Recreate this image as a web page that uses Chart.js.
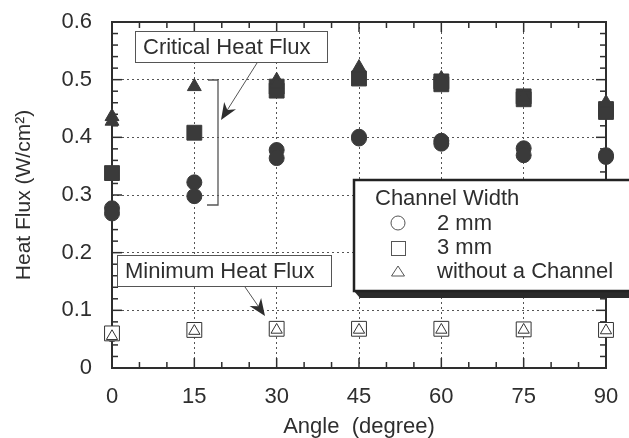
<!DOCTYPE html>
<html>
<head>
<meta charset="utf-8">
<script src="https://cdn.jsdelivr.net/npm/chart.js@4.4.0/dist/chart.umd.min.js"></script>
<style>
html, body { margin: 0; padding: 0; background: #fff; }
canvas { display: block; }
</style>
</head>
<body>
<canvas id="heatFluxChart" width="629" height="438"></canvas>
<script>
// Critical heat flux (filled markers) - repeated runs at the same angle
const chf2mmAngles = [0, 0, 15, 15, 30, 30, 45, 45, 60, 60, 75, 75, 90, 90];
const chf2mmValues = [0.277, 0.268, 0.322, 0.298, 0.378, 0.364, 0.401, 0.398, 0.394, 0.389, 0.381, 0.369, 0.369, 0.366];
const chf3mmAngles = [0, 15, 30, 30, 45, 60, 60, 75, 75, 90, 90];
const chf3mmValues = [0.338, 0.408, 0.488, 0.481, 0.502, 0.497, 0.492, 0.471, 0.466, 0.449, 0.444];
const chfNoneAngles = [0, 0, 15, 30, 30, 45, 60, 75, 90];
const chfNoneValues = [0.436, 0.428, 0.488, 0.499, 0.492, 0.521, 0.502, 0.470, 0.460];

// Minimum heat flux (open markers)
const mhfAngles = [0, 15, 30, 45, 60, 75, 90];
const mhf2mmValues = [0.058, 0.066, 0.068, 0.068, 0.068, 0.067, 0.066];
const mhf3mmValues = [0.060, 0.066, 0.068, 0.068, 0.068, 0.067, 0.066];
const mhfNoneValues = [0.055, 0.064, 0.066, 0.066, 0.066, 0.066, 0.065];

const angleTicks = [0, 15, 30, 45, 60, 75, 90];
const fluxTicks = [0, 0.1, 0.2, 0.3, 0.4, 0.5, 0.6];

const FONT = '"Liberation Sans", Arial, Helvetica, sans-serif';
const INK = '#2e2e2e';
const FILL = '#3a3a3a';

function toPoints(xs, ys) {
    return xs.map((a, i) => ({ x: a, y: ys[i] }));
}

function line(ctx, x1, y1, x2, y2) {
    ctx.beginPath();
    ctx.moveTo(x1, y1);
    ctx.lineTo(x2, y2);
    ctx.stroke();
}

// thin line with a filled barbed head at (x2, y2)
function arrow(ctx, x1, y1, x2, y2) {
    const ang = Math.atan2(y2 - y1, x2 - x1);
    const len = 17, half = 7;
    const bx = x2 - Math.cos(ang) * len, by = y2 - Math.sin(ang) * len;
    const nx = x2 - Math.cos(ang) * len * 0.7, ny = y2 - Math.sin(ang) * len * 0.7;
    ctx.lineWidth = 1;
    line(ctx, x1, y1, nx, ny);
    ctx.beginPath();
    ctx.moveTo(x2, y2);
    ctx.lineTo(bx - Math.sin(ang) * half, by + Math.cos(ang) * half);
    ctx.lineTo(nx, ny);
    ctx.lineTo(bx + Math.sin(ang) * half, by - Math.cos(ang) * half);
    ctx.closePath();
    ctx.fill();
}

function textBox(ctx, x, y, w, h, text) {
    ctx.fillStyle = '#fff';
    ctx.fillRect(x, y, w, h);
    ctx.lineWidth = 1;
    ctx.strokeStyle = '#555';
    ctx.strokeRect(x + 0.5, y + 0.5, w, h);
    ctx.fillStyle = INK;
    ctx.fillText(text, x + 8, y + h / 2 + 1);
}

// no extra room for overhanging tick labels: the plot box is fixed
function fixSize(prop, size) {
    return (s) => {
        s[prop] = size;
        s.paddingTop = 0;
        s.paddingBottom = 0;
        s.paddingLeft = 0;
        s.paddingRight = 0;
    };
}

const frameAndTicks = {
    id: 'frameAndTicks',
    beforeDatasetsDraw(chart) {
        const { ctx, chartArea: a, scales: { x, y } } = chart;
        ctx.save();
        ctx.strokeStyle = INK;
        ctx.lineWidth = 1.5;
        for (let v = 0; v <= 90; v += 5) {
            const px = x.getPixelForValue(v);
            const len = angleTicks.includes(v) ? 10 : 6;
            line(ctx, px, a.bottom, px, a.bottom - len);
            line(ctx, px, a.top, px, a.top + len);
        }
        for (let i = 0; i <= 30; i++) {
            const py = y.getPixelForValue(i * 0.02);
            const len = i % 5 === 0 ? 10 : 6;
            line(ctx, a.left, py, a.left + len, py);
            line(ctx, a.right, py, a.right - len, py);
        }
        ctx.lineWidth = 2;
        ctx.strokeRect(a.left, a.top, a.right - a.left, a.bottom - a.top);
        ctx.restore();
    },
    afterDraw(chart) {
        const { ctx } = chart;
        ctx.save();
        ctx.font = '22px ' + FONT;
        ctx.textBaseline = 'middle';
        ctx.fillStyle = INK;
        ctx.strokeStyle = INK;

        // Critical Heat Flux label, arrow and bracket
        textBox(ctx, 135, 31, 192, 31, 'Critical Heat Flux');
        ctx.fillStyle = INK;
        arrow(ctx, 257, 63, 221, 120);
        ctx.lineWidth = 1.3;
        ctx.beginPath();
        ctx.moveTo(208, 80);
        ctx.lineTo(218, 80);
        ctx.lineTo(218, 205);
        ctx.lineTo(207, 205);
        ctx.stroke();

        // Minimum Heat Flux label and arrow
        textBox(ctx, 117, 255, 214, 31, 'Minimum Heat Flux');
        ctx.fillStyle = INK;
        arrow(ctx, 245, 287, 265, 316);

        // legend box with raised shadow
        ctx.fillStyle = '#2a2a2a';
        ctx.beginPath();
        ctx.moveTo(353, 290);
        ctx.lineTo(360, 298);
        ctx.lineTo(640, 298);
        ctx.lineTo(640, 290);
        ctx.closePath();
        ctx.fill();
        ctx.fillStyle = '#fff';
        ctx.fillRect(354, 180, 290, 111);
        ctx.lineWidth = 2.5;
        ctx.strokeStyle = '#222';
        ctx.strokeRect(354, 180, 290, 111);

        ctx.fillStyle = INK;
        ctx.fillText('Channel Width', 375, 199);
        ctx.fillText('2 mm', 437, 224);
        ctx.fillText('3 mm', 437, 248);
        ctx.fillText('without a Channel', 437, 272);

        ctx.strokeStyle = '#555';
        ctx.lineWidth = 1;
        ctx.beginPath();
        ctx.arc(398, 223, 7, 0, Math.PI * 2);
        ctx.stroke();
        ctx.strokeRect(391.5, 241.5, 14, 14);
        ctx.beginPath();
        ctx.moveTo(398, 266);
        ctx.lineTo(404.5, 276);
        ctx.lineTo(391.5, 276);
        ctx.closePath();
        ctx.stroke();
        ctx.restore();
    }
};

const filled = { backgroundColor: FILL, borderColor: FILL, borderWidth: 1 };
const open = { backgroundColor: '#fff', borderColor: '#333', borderWidth: 1 };

new Chart(document.getElementById('heatFluxChart'), {
    type: 'scatter',
    data: {
        datasets: [
            { label: 'MHF without a Channel', data: toPoints(mhfAngles, mhfNoneValues), pointStyle: 'triangle', pointRadius: 6.5, ...open },
            { label: 'MHF 3 mm', data: toPoints(mhfAngles, mhf3mmValues), pointStyle: 'rect', pointRadius: 10.5, ...open },
            { label: 'MHF 2 mm', data: toPoints(mhfAngles, mhf2mmValues), pointStyle: 'circle', pointRadius: 7, ...open },
            { label: 'CHF without a Channel', data: toPoints(chfNoneAngles, chfNoneValues), pointStyle: 'triangle', pointRadius: 8, ...filled },
            { label: 'CHF 3 mm', data: toPoints(chf3mmAngles, chf3mmValues), pointStyle: 'rect', pointRadius: 10.5, ...filled },
            { label: 'CHF 2 mm', data: toPoints(chf2mmAngles, chf2mmValues), pointStyle: 'circle', pointRadius: 7.5, ...filled }
        ]
    },
    options: {
        responsive: false,
        animation: false,
        clip: false,
        layout: { padding: { top: 22, right: 23, bottom: 0, left: 0 } },
        plugins: {
            legend: { display: false },
            tooltip: { enabled: false }
        },
        scales: {
            x: {
                type: 'linear',
                min: 0,
                max: 90,
                afterBuildTicks: (s) => { s.ticks = angleTicks.map(v => ({ value: v })); },
                afterFit: fixSize('height', 70),
                ticks: { padding: 16, color: INK, font: { family: FONT, size: 22 } },
                grid: { color: '#555', lineWidth: 1, drawTicks: false },
                border: { display: false, dash: [2, 3] },
                title: {
                    display: true,
                    text: 'Angle  (degree)',
                    color: INK,
                    font: { family: FONT, size: 22, lineHeight: 1.0 },
                    padding: { top: 0, bottom: 0 }
                }
            },
            y: {
                min: 0,
                max: 0.6,
                afterBuildTicks: (s) => { s.ticks = fluxTicks.map(v => ({ value: v })); },
                afterFit: fixSize('width', 112),
                ticks: { padding: 20, color: INK, font: { family: FONT, size: 22 } },
                grid: { color: '#555', lineWidth: 1, drawTicks: false },
                border: { display: false, dash: [2, 3] },
                title: {
                    display: true,
                    text: 'Heat Flux (W/cm²)',
                    color: INK,
                    font: { family: FONT, size: 21 },
                    padding: { top: 12, bottom: 0 }
                }
            }
        }
    },
    plugins: [frameAndTicks]
});
</script>
</body>
</html>
